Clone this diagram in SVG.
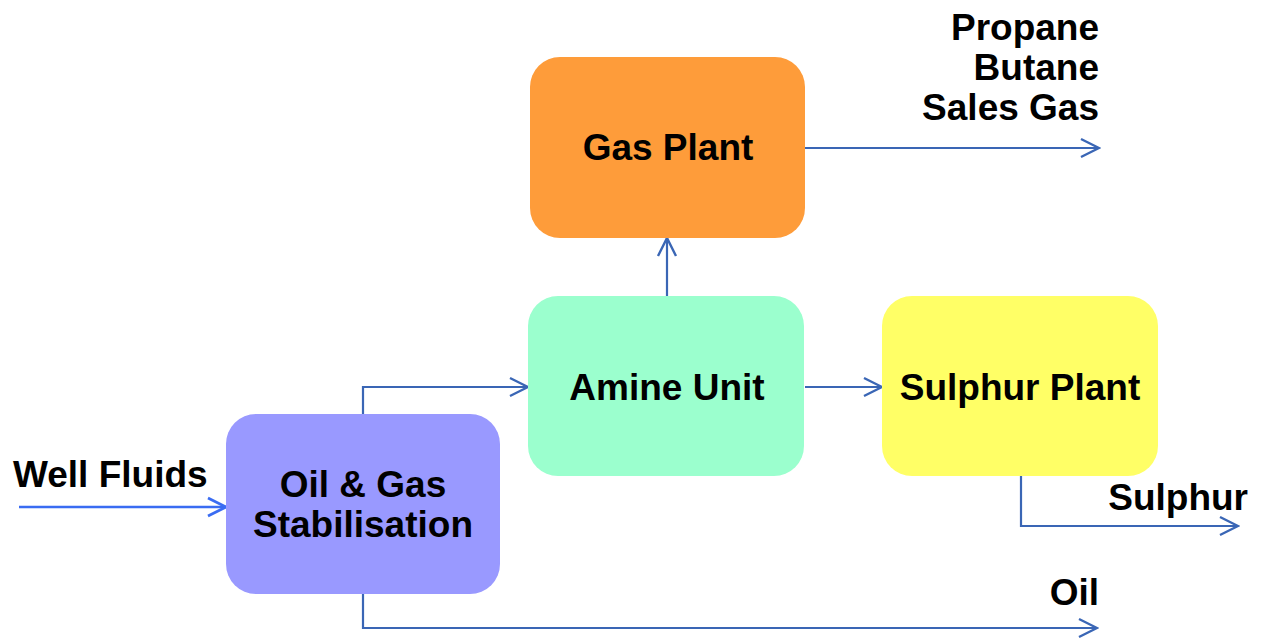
<svg xmlns="http://www.w3.org/2000/svg" width="1262" height="642" viewBox="0 0 1262 642">
<style>
.lbl{font-family:"Liberation Sans",Arial,sans-serif;font-weight:bold;font-size:37px;fill:#000}
.c{stroke:#3A66B5;stroke-width:2.2;fill:none}
.box{stroke:none}
</style>
<defs>
<marker id="ah" markerUnits="userSpaceOnUse" markerWidth="22" markerHeight="22" viewBox="0 0 22 22" refX="20" refY="11" orient="auto">
<path d="M2,2 L20,11 L2,20" fill="none" stroke="#3A66B5" stroke-width="2.4"/>
</marker>
<marker id="ah2" markerUnits="userSpaceOnUse" markerWidth="22" markerHeight="22" viewBox="0 0 22 22" refX="20" refY="11" orient="auto">
<path d="M2,2 L20,11 L2,20" fill="none" stroke="#3A6CF2" stroke-width="2.8"/>
</marker>
</defs>
<rect width="1262" height="642" fill="#fff"/>
<g id="connectors">
<path class="c" style="stroke:#3A6CF2;stroke-width:2.6" d="M19,507 H226" marker-end="url(#ah2)"/>
<path class="c" d="M363,414 V387 H528" marker-end="url(#ah)"/>
<path class="c" d="M667,296 V238" marker-end="url(#ah)"/>
<path class="c" d="M805,387 H882" marker-end="url(#ah)"/>
<path class="c" d="M805,148 H1099" marker-end="url(#ah)"/>
<path class="c" d="M1021,476 V526 H1238" marker-end="url(#ah)"/>
<path class="c" d="M363,594 V628 H1097" marker-end="url(#ah)"/>
</g>
<g id="gas-plant">
<rect class="box" x="530" y="57" width="275" height="181" rx="30" fill="#FE9C3A"/>
<text class="lbl" x="668" y="160" text-anchor="middle">Gas Plant</text>
</g>
<g id="amine-unit">
<rect class="box" x="528" y="296" width="276" height="180" rx="30" fill="#9BFFCE"/>
<text class="lbl" x="667" y="400" text-anchor="middle">Amine Unit</text>
</g>
<g id="sulphur-plant">
<rect class="box" x="882" y="296" width="276" height="180" rx="30" fill="#FFFF66"/>
<text class="lbl" x="1020" y="400" text-anchor="middle">Sulphur Plant</text>
</g>
<g id="stabilisation">
<rect class="box" x="226" y="414" width="274" height="180" rx="30" fill="#9999FF"/>
<text class="lbl" x="363" y="497" text-anchor="middle">Oil &amp; Gas</text>
<text class="lbl" x="363" y="537" text-anchor="middle">Stabilisation</text>
</g>
<g id="labels">
<text class="lbl" x="13" y="487">Well Fluids</text>
<text class="lbl" x="1099" y="40" text-anchor="end">Propane</text>
<text class="lbl" x="1099" y="80" text-anchor="end">Butane</text>
<text class="lbl" x="1099" y="120" text-anchor="end">Sales Gas</text>
<text class="lbl" x="1248" y="510" text-anchor="end">Sulphur</text>
<text class="lbl" x="1099" y="605" text-anchor="end">Oil</text>
</g>
</svg>
